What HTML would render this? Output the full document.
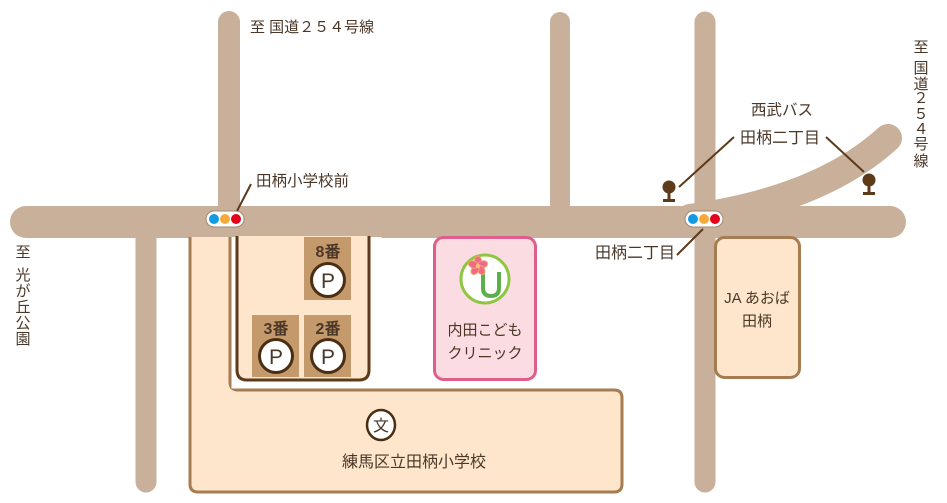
<!DOCTYPE html>
<html><head><meta charset="utf-8"><style>
html,body{margin:0;padding:0;background:#fff;}
svg{display:block;}
text{font-family:"Liberation Sans","Noto Sans CJK JP",sans-serif;fill:#4a3728;}
</style></head><body>
<svg width="947" height="503" viewBox="0 0 947 503" xmlns="http://www.w3.org/2000/svg">
<g stroke="#c8b09a" stroke-linecap="round" fill="none">
<line x1="229" y1="22" x2="229" y2="215" stroke-width="22"/>
<line x1="560" y1="22" x2="560" y2="215" stroke-width="20"/>
<line x1="705" y1="22" x2="705" y2="482" stroke-width="21"/>
<line x1="146" y1="225" x2="146" y2="482" stroke-width="21"/>
<line x1="26" y1="222" x2="890" y2="222" stroke-width="32"/>
<path d="M690 218 Q820 200 888 138" stroke-width="28"/>
</g>
<!-- school -->
<path d="M190 237 V484 Q190 492 198 492 H614 Q622 492 622 484 V398 Q622 390 614 390 H238 Q230 390 230 382 V237" fill="#fde6cc" stroke="#a67c52" stroke-width="3"/>
<rect x="231.5" y="237" width="150" height="151.5" fill="#fff"/>
<path d="M237 236 V370 Q237 380 247 380 H359 Q369 380 369 370 V236 Z" fill="#fde6cc"/>
<path d="M237 236 V370 Q237 380 247 380 H359 Q369 380 369 370 V236" fill="none" stroke="#5c3a1a" stroke-width="3"/>
<rect x="304" y="237" width="47" height="63" fill="#c49a6c"/>
<rect x="252" y="315" width="47" height="62" fill="#c49a6c"/>
<rect x="304" y="315" width="47" height="62" fill="#c49a6c"/>
<g fill="#fff" stroke="#4a2e14" stroke-width="3">
<circle cx="328" cy="280" r="16.5"/><circle cx="276" cy="356" r="16.5"/><circle cx="328" cy="356" r="16.5"/>
</g>
<g font-size="21" text-anchor="middle">
<text x="328" y="288">P</text><text x="276" y="364">P</text><text x="328" y="364">P</text>
</g>
<g font-size="16" text-anchor="middle" font-weight="bold">
<text x="328" y="257">8番</text><text x="276" y="334">3番</text><text x="328" y="334">2番</text>
</g>
<!-- school symbol -->
<ellipse cx="381" cy="425" rx="14" ry="15" fill="#fff" stroke="#4a2e14" stroke-width="2.5"/>
<text x="381" y="431" font-size="16" text-anchor="middle">文</text>
<text x="414" y="467" font-size="16" text-anchor="middle">練馬区立田柄小学校</text>
<!-- clinic -->
<rect x="434.5" y="237.5" width="101" height="142" rx="9" fill="#fadce2" stroke="#de5f8c" stroke-width="3"/>
<circle cx="485" cy="279" r="24" fill="#fff" stroke="#8dc63f" stroke-width="3"/>
<path d="M483 274 V288 Q483 296 491 296 Q499 296 499 288 V272" fill="none" stroke="#5bb04a" stroke-width="4"/>
<g transform="translate(478,266)" fill="#ef6a8a" stroke="#f4b060" stroke-width="0.8">
<ellipse cx="0" cy="-5" rx="3.6" ry="5"/>
<ellipse cx="0" cy="-5" rx="3.6" ry="5" transform="rotate(72)"/>
<ellipse cx="0" cy="-5" rx="3.6" ry="5" transform="rotate(144)"/>
<ellipse cx="0" cy="-5" rx="3.6" ry="5" transform="rotate(216)"/>
<ellipse cx="0" cy="-5" rx="3.6" ry="5" transform="rotate(288)"/>
<circle r="2.2" fill="#f7c070" stroke="none"/>
</g>
<text x="485" y="335" font-size="15" text-anchor="middle">内田こども</text>
<text x="485" y="358" font-size="15" text-anchor="middle">クリニック</text>
<!-- JA -->
<rect x="715.5" y="237.5" width="84" height="140" rx="9" fill="#fde6cc" stroke="#a67c52" stroke-width="3"/>
<text x="757" y="303" font-size="15" text-anchor="middle">JA あおば</text>
<text x="757" y="326" font-size="15" text-anchor="middle">田柄</text>
<!-- traffic lights -->
<g>
<rect x="206" y="211" width="38" height="16" rx="8" fill="#fff" stroke="#a08870" stroke-width="1"/>
<circle cx="214" cy="219" r="5" fill="#139ae0"/><circle cx="225" cy="219" r="5" fill="#f5ab3b"/><circle cx="236" cy="219" r="5" fill="#e5001b"/>
<rect x="685" y="211" width="38" height="16" rx="8" fill="#fff" stroke="#a08870" stroke-width="1"/>
<circle cx="693" cy="219" r="5" fill="#139ae0"/><circle cx="704" cy="219" r="5" fill="#f5ab3b"/><circle cx="715" cy="219" r="5" fill="#e5001b"/>
</g>
<!-- leader lines -->
<g stroke="#5c3a1a" stroke-width="2">
<line x1="237" y1="211" x2="251" y2="184"/>
<line x1="703" y1="229" x2="677" y2="255"/>
<line x1="679" y1="187" x2="734" y2="137"/>
<line x1="826" y1="137" x2="864" y2="172"/>
</g>
<!-- bus stops -->
<g fill="#5c3a1a">
<circle cx="669" cy="187" r="6.5"/><rect x="667.5" y="190" width="3" height="10"/><rect x="663" y="199" width="12" height="3"/>
<circle cx="869" cy="180" r="6.5"/><rect x="867.5" y="183" width="3" height="10"/><rect x="863" y="192" width="12" height="3"/>
</g>
<!-- labels -->
<text x="250" y="32" font-size="15">至 国道２５４号線</text>
<text x="256" y="186" font-size="15.5">田柄小学校前</text>
<text x="782" y="115" font-size="15.5" text-anchor="middle">西武バス</text>
<text x="780" y="143" font-size="16" text-anchor="middle">田柄二丁目</text>
<text x="595" y="258" font-size="16">田柄二丁目</text>
<g font-size="15" text-anchor="middle">
<text x="23" y="257">至</text><text x="23" y="280">光</text><text x="23" y="296">が</text><text x="23" y="312">丘</text><text x="23" y="328">公</text><text x="23" y="344">園</text>
</g>
<g font-size="15" text-anchor="middle">
<text x="921" y="52">至</text><text x="921" y="73">国</text><text x="921" y="89">道</text><text x="921" y="103">２</text><text x="921" y="119">５</text><text x="921" y="134">４</text><text x="921" y="149">号</text><text x="921" y="166">線</text>
</g>
</svg>
</body></html>
